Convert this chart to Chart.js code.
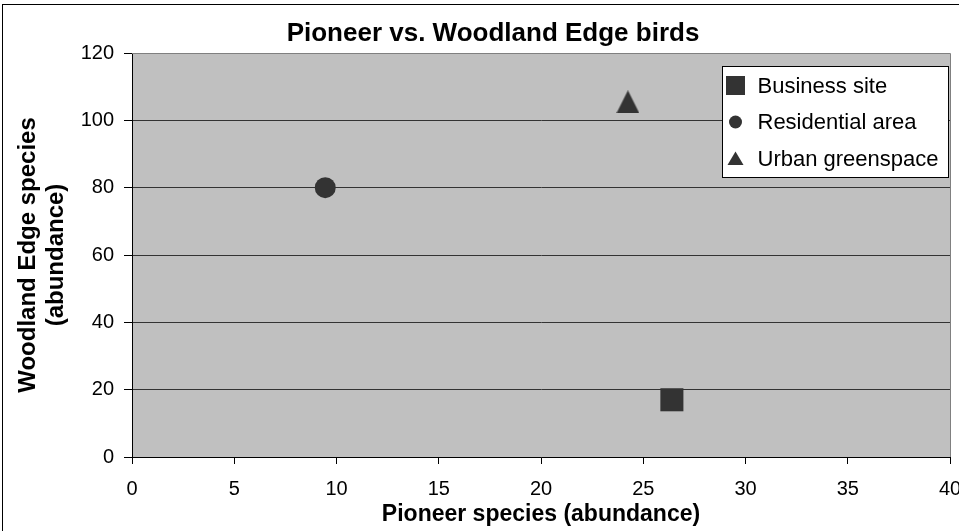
<!DOCTYPE html>
<html>
<head>
<meta charset="utf-8">
<script src="https://cdn.jsdelivr.net/npm/chart.js@4.4.1/dist/chart.umd.min.js"></script>
<style>
  html, body { margin: 0; padding: 0; background: #fff; }
  canvas { display: block; }
</style>
</head>
<body>
<canvas id="birdChart" width="959" height="531"></canvas>
<script>
// data
const siteLabels = ['Business site', 'Residential area', 'Urban greenspace'];
const pioneer = [26.4, 9.45, 24.25];
const woodlandEdge = [17, 80, 105.5];
const xTicks = [0, 5, 10, 15, 20, 25, 30, 35, 40];
const yTicks = [0, 20, 40, 60, 80, 100, 120];

const FONT = "'Liberation Sans', Arial, sans-serif";
const MARK = '#333333';

// the original frame is cropped on the right, so the title sits right of the canvas centre
const PAD_LEFT = 36;

// triangle marker as a small canvas (chart.js triangle is a bit squat)
function triangleImg(size) {
    const c = document.createElement('canvas');
    c.width = size; c.height = size;
    const g = c.getContext('2d');
    g.fillStyle = MARK;
    g.beginPath();
    g.moveTo(0, size);
    g.lineTo(size / 2, 0);
    g.lineTo(size, size);
    g.closePath();
    g.fill();
    return c;
}

const styles = ['rect', 'circle', triangleImg(23)];
const radii = [16.3, 10.5, 12];

const datasets = siteLabels.map((name, i) => ({
    label: name,
    data: [{ x: pioneer[i], y: woodlandEdge[i] }],
    pointStyle: styles[i],
    pointRadius: radii[i],
    pointHoverRadius: radii[i],
    backgroundColor: MARK,
    borderColor: MARK,
    borderWidth: 0
}));

// grey plot area, outer frame, plot border
const plotFrame = {
    id: 'plotFrame',
    beforeDraw(chart) {
        const { ctx, chartArea: a } = chart;
        ctx.save();
        ctx.fillStyle = '#fff';
        ctx.fillRect(0, 0, chart.width, chart.height);
        ctx.fillStyle = '#C0C0C0';
        ctx.fillRect(a.left, a.top, a.right - a.left, a.bottom - a.top);
        ctx.restore();
    },
    beforeDatasetsDraw(chart) {
        const { ctx, chartArea: a } = chart;
        ctx.save();
        ctx.strokeStyle = '#808080';
        ctx.lineWidth = 1;
        ctx.beginPath();
        ctx.moveTo(a.left, Math.round(a.top) + 0.5);
        ctx.lineTo(Math.round(a.right) + 0.5, Math.round(a.top) + 0.5);
        ctx.lineTo(Math.round(a.right) + 0.5, a.bottom);
        ctx.stroke();
        ctx.restore();
    },
    afterDraw(chart) {
        const ctx = chart.ctx;
        ctx.save();
        ctx.strokeStyle = '#000';
        ctx.lineWidth = 1;
        ctx.strokeRect(2.5, 4.5, 2000, 2000);
        ctx.restore();
    }
};

// legend box inside the plot, top right
const insideLegend = {
    id: 'insideLegend',
    afterDatasetsDraw(chart) {
        const { ctx, chartArea: a } = chart;
        const w = 226, h = 111;
        const left = Math.round(a.right) - 228 + 0.5;
        const top = Math.round(a.top) + 13 + 0.5;
        ctx.save();
        ctx.fillStyle = '#fff';
        ctx.fillRect(left, top, w, h);
        ctx.strokeStyle = '#000';
        ctx.lineWidth = 1;
        ctx.strokeRect(left, top, w, h);

        const rows = [19, 55.5, 92];
        chart.data.datasets.forEach((ds, i) => {
            const cx = left + 13, cy = top + rows[i];
            ctx.fillStyle = MARK;
            ctx.beginPath();
            if (ds.pointStyle === 'rect') {
                ctx.rect(cx - 9.5, cy - 9.5, 19, 19);
            } else if (ds.pointStyle === 'circle') {
                ctx.arc(cx, cy, 6.5, 0, Math.PI * 2);
            } else {
                ctx.moveTo(cx - 8, cy + 6.5);
                ctx.lineTo(cx, cy - 7);
                ctx.lineTo(cx + 8, cy + 6.5);
                ctx.closePath();
            }
            ctx.fill();
            ctx.fillStyle = '#000';
            ctx.font = '22px ' + FONT;
            ctx.textAlign = 'left';
            ctx.textBaseline = 'middle';
            ctx.fillText(ds.label, left + 35, cy + 1);
        });
        ctx.restore();
    }
};

new Chart(document.getElementById('birdChart'), {
    type: 'scatter',
    data: { datasets: datasets },
    plugins: [plotFrame, insideLegend],
    options: {
        responsive: false,
        animation: false,
        layout: { autoPadding: false, padding: { left: PAD_LEFT, right: 9, top: 0, bottom: 0 } },
        plugins: {
            legend: { display: false },
            tooltip: { enabled: false },
            title: {
                display: true,
                text: 'Pioneer vs. Woodland Edge birds',
                color: '#000',
                font: { family: FONT, size: 26, weight: 'bold', lineHeight: 1.2 },
                padding: { top: 18, bottom: 3.8 }
            }
        },
        scales: {
            x: {
                type: 'linear',
                min: 0,
                max: 40,
                afterBuildTicks: s => { s.ticks = xTicks.map(v => ({ value: v })); },
                afterFit: s => { s.height = 74; s.paddingLeft = 0; s.paddingRight = 0; },
                ticks: { color: '#000', font: { family: FONT, size: 20 }, padding: 13, maxRotation: 0 },
                grid: { drawOnChartArea: false, drawTicks: true, tickLength: 7, tickColor: '#000' },
                border: { color: '#000', width: 1 },
                title: {
                    display: true,
                    text: 'Pioneer species (abundance)',
                    color: '#000',
                    font: { family: FONT, size: 23, weight: 'bold', lineHeight: 1.2 },
                    padding: { top: 0, bottom: 3 }
                }
            },
            y: {
                type: 'linear',
                min: 0,
                max: 120,
                afterBuildTicks: s => { s.ticks = yTicks.map(v => ({ value: v })); },
                afterFit: s => { s.width = 132 - PAD_LEFT; s.paddingTop = 0; s.paddingBottom = 0; },
                ticks: { color: '#000', font: { family: FONT, size: 20 }, padding: 10 },
                grid: {
                    color: c => (c.tick && c.tick.value === 120 ? '#808080' : '#333'),
                    tickLength: 8,
                    tickColor: '#000'
                },
                border: { color: '#000', width: 1 },
                title: {
                    display: true,
                    text: ['Woodland Edge species', '(abundance)'],
                    color: '#000',
                    font: { family: FONT, size: 24, weight: 'bold', lineHeight: 1.15 },
                    // pulled back left into the padding
                    padding: { top: 15 - PAD_LEFT, bottom: 0 }
                }
            }
        }
    }
});
</script>
</body>
</html>
